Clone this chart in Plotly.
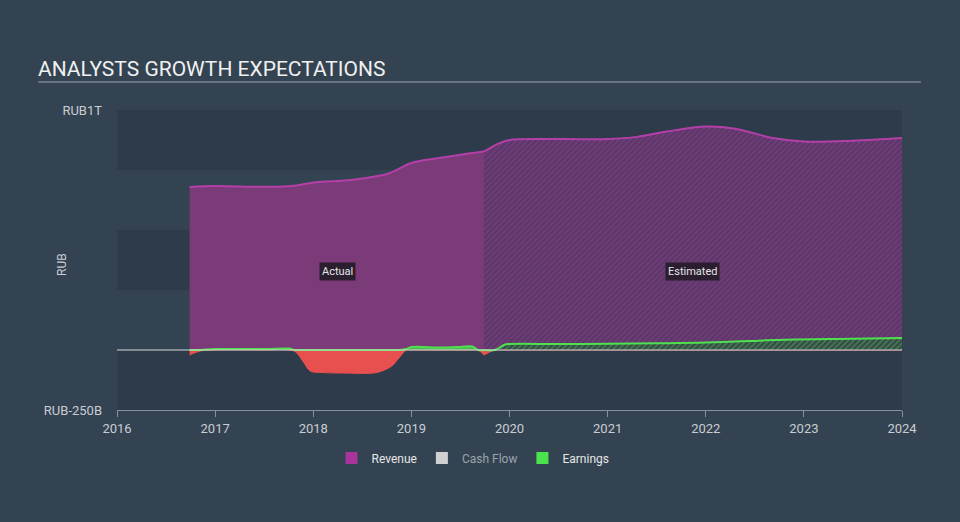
import numpy as np
import plotly.graph_objects as go

# ---------------- data (values in RUB trillions) ----------------
rev_act_x = [2016.74, 2017.0, 2017.25, 2017.5, 2017.78, 2018.0, 2018.25, 2018.5, 2018.75, 2019.0, 2019.25, 2019.5, 2019.74]
rev_act_y = [0.679, 0.683, 0.681, 0.680, 0.683, 0.698, 0.704, 0.715, 0.733, 0.779, 0.798, 0.814, 0.827]

rev_est_x = [2019.74, 2019.9, 2020.0, 2020.5, 2021.0, 2021.3, 2021.6, 2022.0, 2022.3, 2022.7, 2023.0, 2023.5, 2024.0]
rev_est_y = [0.827, 0.862, 0.875, 0.879, 0.879, 0.888, 0.910, 0.931, 0.922, 0.882, 0.869, 0.872, 0.883]

earn_act_x = [2016.74, 2016.85, 2017.0, 2017.5, 2017.75, 2017.82, 2017.9, 2017.97, 2018.1, 2018.3, 2018.61,
              2018.7, 2018.8, 2018.88, 2018.95, 2019.0, 2019.3, 2019.5, 2019.62, 2019.68, 2019.74]
earn_act_y = [-0.021, -0.004, 0.004, 0.004, 0.006, -0.008, -0.05, -0.0875, -0.094, -0.096, -0.096,
              -0.0875, -0.067, -0.03, 0.004, 0.0125, 0.010, 0.0125, 0.015, 0.0, -0.021]

earn_est_x = [2019.74, 2019.85, 2019.95, 2020.0, 2020.5, 2021.0, 2021.5, 2022.0, 2022.5, 2022.8, 2023.5, 2024.0]
earn_est_y = [-0.021, 0.0, 0.022, 0.025, 0.025, 0.026, 0.028, 0.031, 0.038, 0.043, 0.047, 0.050]

year_ticks = [2016, 2017, 2018, 2019, 2020, 2021, 2022, 2023, 2024]
y_tickvals = [-0.25, 1.0]
y_ticktext = ["RUB-250B", "RUB1T"]

# ---------------- styles ----------------
PAGE_BG = "#344352"
BAND_BG = "#2e3b4a"
REV_LINE = "#b53fa9"
REV_FILL = "#7b3a78"
GREEN = "#4fe04f"
GREEN_FILL = "#52b852"
RED = "#e85050"
TXT = "#c9cdd2"

fig = go.Figure()

# revenue actual
fig.add_trace(go.Scatter(x=rev_act_x, y=rev_act_y, mode="lines", line=dict(color=REV_LINE, width=2, shape="spline"),
                         fill="tozeroy", fillcolor=REV_FILL, showlegend=False, hoverinfo="skip"))
# revenue estimated (hatched)
fig.add_trace(go.Scatter(x=rev_est_x, y=rev_est_y, mode="lines", line=dict(color=REV_LINE, width=2, shape="spline"),
                         fill="tozeroy", fillcolor="#573866",
                         fillpattern=dict(shape="/", fgcolor="#8e3d8c", bgcolor="#573866", size=4, solidity=0.5),
                         showlegend=False, hoverinfo="skip"))

# earnings actual split into positive/negative parts
ea = np.array(earn_act_y)
fig.add_trace(go.Scatter(x=earn_act_x, y=np.minimum(ea, 0), mode="lines", line=dict(color=RED, width=1, shape="spline"),
                         fill="tozeroy", fillcolor=RED, showlegend=False, hoverinfo="skip"))
fig.add_trace(go.Scatter(x=earn_act_x, y=np.maximum(ea, 0), mode="lines", line=dict(color=GREEN, width=2, shape="spline"),
                         fill="tozeroy", fillcolor=GREEN_FILL, showlegend=False, hoverinfo="skip"))

ee = np.array(earn_est_y)
fig.add_trace(go.Scatter(x=earn_est_x, y=np.minimum(ee, 0), mode="lines", line=dict(color=RED, width=1, shape="spline"),
                         fill="tozeroy", fillcolor=RED, showlegend=False, hoverinfo="skip"))
fig.add_trace(go.Scatter(x=earn_est_x, y=np.maximum(ee, 0), mode="lines", line=dict(color=GREEN, width=2, shape="spline"),
                         fill="tozeroy", fillcolor="#35454a",
                         fillpattern=dict(shape="/", fgcolor="#4fae4f", bgcolor="#35454a", size=4, solidity=0.5),
                         showlegend=False, hoverinfo="skip"))

# legend entries
for name, col in [("Revenue", "#a8359c"), ("<span style='color:#9aa3ad'>Cash Flow</span>", "#d0d0d0"), ("Earnings", "#4be34b")]:
    fig.add_trace(go.Scatter(x=[None], y=[None], mode="markers", name=name,
                             marker=dict(symbol="square", size=15, color=col)))

# background bands
shapes = []
for y0 in [0.75, 0.25, -0.25]:
    shapes.append(dict(type="rect", xref="paper", yref="y", x0=0, x1=1, y0=y0, y1=y0 + 0.25,
                       fillcolor=BAND_BG, line=dict(width=0), layer="below"))
# zero line
shapes.append(dict(type="line", xref="paper", yref="y", x0=0, x1=1, y0=0, y1=0,
                   line=dict(color="#d8d8d8", width=1), layer="above"))
# title underline
W, H = 960, 522
L, R, T, B = 117, 902, 110, 410
def px(xp):
    return (xp - L) / (R - L)
def py(yp):
    return (B - yp) / (B - T)
shapes.append(dict(type="line", xref="paper", yref="paper", x0=px(38), x1=px(921), y0=py(82), y1=py(82),
                   line=dict(color="#9aa4ae", width=1)))

annotations = [
    dict(x=2018.25, y=0.329, xref="x", yref="y", text="Actual", showarrow=False,
         font=dict(color="#e6e6e6", size=11, family="Roboto"), bgcolor="#2a1e2f", borderpad=2),
    dict(x=2021.87, y=0.329, xref="x", yref="y", text="Estimated", showarrow=False,
         font=dict(color="#e6e6e6", size=11, family="Roboto"), bgcolor="#2a1e2f", borderpad=2),
    dict(x=px(62), y=py(265), xref="paper", yref="paper", text="RUB", textangle=-90, showarrow=False,
         xanchor="center", yanchor="middle", font=dict(color=TXT, size=12, family="Roboto")),
]

fig.update_layout(
    width=W, height=H,
    paper_bgcolor=PAGE_BG, plot_bgcolor=PAGE_BG,
    margin=dict(l=L, r=W - R, t=T, b=H - B),
    title=dict(text="ANALYSTS GROWTH EXPECTATIONS", x=38 / W, xanchor="left", xref="container",
               y=1 - 69 / H, yanchor="middle", yref="container",
               font=dict(color="#f0f0f0", size=21, family="Roboto")),
    shapes=shapes, annotations=annotations,
    font=dict(family="Roboto", color=TXT),
    legend=dict(orientation="h", x=px(473), xanchor="center", y=py(458), yanchor="middle",
                font=dict(color="#e6e6e6", size=12, family="Roboto"), bgcolor="rgba(0,0,0,0)",
                itemsizing="constant", traceorder="normal"),
    xaxis=dict(range=[2016, 2024], tickvals=year_ticks, ticktext=[str(t) for t in year_ticks],
               showgrid=False, zeroline=False, showline=True, linecolor="#8592a0", linewidth=1,
               ticks="outside", ticklen=6, tickcolor="#8592a0", tickfont=dict(size=13, color=TXT)),
    yaxis=dict(range=[-0.25, 1.0], tickvals=y_tickvals, ticktext=y_ticktext, showgrid=False, zeroline=False,
               showline=False, ticks="", ticklabelstandoff=14, tickfont=dict(size=13, color=TXT)),
)

fig.write_html("out.html")
